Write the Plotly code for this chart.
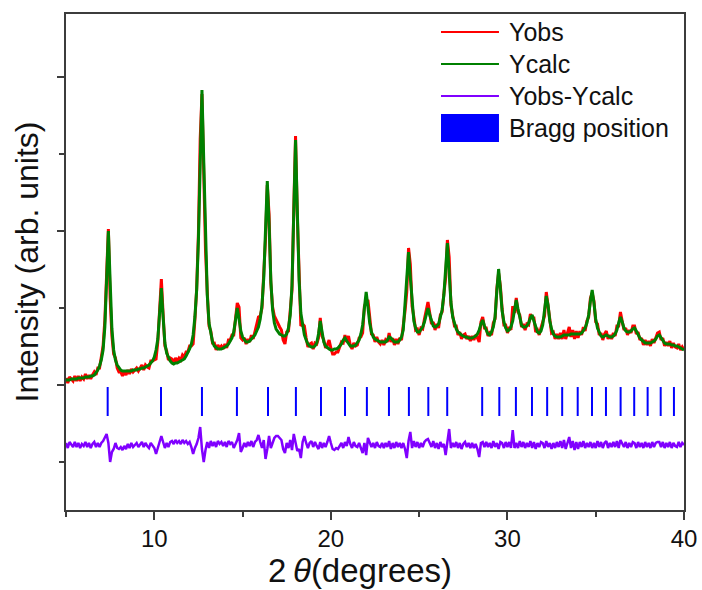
import numpy as np
import plotly.graph_objects as go

# 2-theta grid (degrees), 0.1 deg steps
two_theta = np.round(np.linspace(5.0, 40.0, 351), 1)

# Calculated profile (arb. units)
y_calc = [
    5, 5, 5, 6, 6, 6, 6, 7, 7, 7,
    7, 8, 8, 8, 9, 9, 10, 12, 15, 19,
    25, 35, 58, 105, 154, 104, 56, 35, 25, 20,
    17, 15, 14, 14, 14, 14, 14, 14, 15, 15,
    15, 16, 16, 17, 17, 18, 19, 20, 22, 24,
    28, 35, 46, 70, 97, 68, 42, 32, 27, 24,
    22, 21, 22, 22, 23, 24, 25, 26, 29, 32,
    36, 41, 50, 68, 95, 145, 228, 295, 225, 140,
    90, 62, 50, 43, 39, 37, 36, 36, 36, 37,
    38, 39, 41, 44, 47, 53, 65, 77, 66, 54,
    48, 45, 43, 43, 44, 46, 48, 50, 54, 58,
    66, 80, 107, 160, 204, 162, 105, 75, 62, 56,
    53, 51, 50, 49, 49, 51, 57, 70, 100, 165,
    245, 175, 105, 72, 58, 50, 45, 41, 39, 38,
    38, 39, 42, 51, 64, 52, 43, 39, 37, 36,
    35, 35, 36, 36, 37, 39, 41, 45, 47, 44,
    41, 39, 39, 39, 40, 42, 45, 51, 60, 77,
    93, 78, 62, 53, 48, 46, 45, 44, 43, 43,
    43, 43, 45, 48, 47, 45, 43, 43, 43, 45,
    48, 55, 78, 106, 133, 108, 82, 64, 57, 53,
    53, 55, 58, 63, 71, 77, 70, 63, 59, 58,
    59, 61, 67, 75, 90, 117, 142, 112, 83, 68,
    61, 56, 53, 51, 50, 49, 48, 48, 47, 47,
    47, 48, 49, 51, 55, 61, 65, 59, 54, 51,
    50, 53, 58, 68, 94, 116, 96, 74, 63, 57,
    54, 55, 58, 64, 75, 85, 76, 66, 60, 58,
    58, 59, 62, 67, 70, 64, 57, 53, 52, 54,
    60, 72, 89, 80, 64, 56, 51, 49, 48, 48,
    48, 49, 50, 50, 50, 50, 51, 51, 51, 51,
    51, 51, 52, 54, 57, 62, 70, 84, 95, 82,
    66, 57, 52, 49, 48, 49, 50, 49, 48, 48,
    49, 51, 55, 62, 68, 63, 57, 54, 53, 53,
    54, 56, 57, 54, 50, 47, 45, 43, 42, 42,
    42, 42, 43, 44, 46, 49, 50, 47, 44, 42,
    41, 41, 41, 40, 40, 39, 39, 38, 37, 36,
    35,
]

# Refinement residual Yobs - Ycalc (arb. units)
residual = [
    2, -3, 3, 0, -2, 3, -2, 2, -3, 1,
    -1, 3, -2, 2, -3, 1, 3, -2, 2, -2,
    2, 4, 7, 11, 2, -17, -7, -4, 2, -3,
    -4, -2, -5, -1, -4, 1, -3, 2, -2, 0,
    2, -2, 1, 3, -2, 2, -1, -3, 2, 0,
    -3, -9, -3, 5, 9, 3, -3, 2, -2, 3,
    4, 1, 5, 2, 4, 1, 5, 2, 4, 1,
    3, -2, -9, -3, 1, 7, 18, -4, -17, -5,
    3, -3, 4, -1, 3, -2, 4, 1, 3, -1,
    3, -2, 4, 1, 3, -3, 1, 5, 12, -7,
    -3, 2, -2, 3, -1, 4, -2, 3, 5, 10,
    3, -3, 5, -14, -4, 9, -3, 3, 7, 9,
    9, 7, 5, -4, -8, 2, -3, 5, -5, 11,
    4, -6, -4, -13, 3, 9, 2, -3, 2, 4,
    -2, 3, -1, -4, 3, -3, 2, -2, 3, 9,
    2, -4, -5, -3, -4, -1, 2, -3, 3, -1,
    8, 1, -3, 3, -1, -2, 2, -3, -8, 2,
    -10, 7, 3, -2, 2, -3, 3, -1, -2, 2,
    -3, 2, -2, 4, -4, 2, -3, 3, -2, 2,
    -3, 2, -4, -13, 4, 13, -3, 4, -2, 3,
    -3, 2, -2, 3, 5, 6, 2, -2, 4, -3,
    2, -4, 3, -2, 1, -10, 3, 16, -3, 2,
    -2, 3, -3, 2, -4, 1, 3, -2, 2, -3,
    2, -3, 1, -4, -12, 2, 3, -2, 3, -2,
    2, -3, 4, -2, 2, -4, 3, 2, -3, 3,
    -2, 3, -3, 15, -3, 2, -3, 4, -2, 3,
    -3, 2, -2, 4, -3, 3, -4, 2, -2, 3,
    2, -3, 4, -2, 2, -4, 2, -3, 3, -2,
    4, -3, 5, -4, 2, 8, -3, 4, -5, 3,
    -4, 3, -2, 4, -3, 2, -2, 3, -3, 2,
    -3, 4, -2, 3, -3, 2, 4, -3, 2, -2,
    3, -2, 4, -3, 5, 2, -2, 3, -3, 2,
    -2, 3, 2, -3, 3, -2, 2, -3, 3, -2,
    2, -3, 3, -2, 2, 3, 3, -2, 3, -3,
    2, -2, 3, -3, 2, -1, -2, 3, -2, 2,
    0,
]

# Bragg reflection positions (2-theta, degrees)
bragg_positions = [
    7.36, 10.38, 12.70, 14.68, 16.44, 18.02, 19.44, 20.80, 22.04,
    23.29, 24.42, 25.52, 26.59, 28.57, 29.54, 30.48, 31.39, 32.25,
    33.10, 33.98, 34.79, 35.58, 36.41, 37.18, 37.94, 38.68, 39.43,
]

assert len(y_calc) == len(two_theta) == len(residual)

y_calc = np.array(y_calc, dtype=float)
residual = np.array(residual, dtype=float)
y_obs = y_calc + residual

# vertical placement of the lower panels (axis units)
DIFF_OFFSET = -60
TICK_TOP, TICK_BOTTOM = -2, -31

RED = "#ff0000"
GREEN = "#008000"
PURPLE = "#8000ff"
BLUE = "#0000ff"
AXIS = "#3c3c3c"
FONT = "Liberation Sans, Arial, sans-serif"

bx, by = [], []
for p in bragg_positions:
    bx += [p, p, None]
    by += [TICK_TOP, TICK_BOTTOM, None]

fig = go.Figure()
fig.add_trace(go.Scatter(x=two_theta, y=y_obs, mode="lines", name="Yobs",
                         line=dict(color=RED, width=3), hoverinfo="skip"))
fig.add_trace(go.Scatter(x=two_theta, y=y_calc, mode="lines", name="Ycalc",
                         line=dict(color=GREEN, width=3), hoverinfo="skip"))
fig.add_trace(go.Scatter(x=two_theta, y=residual + DIFF_OFFSET, mode="lines",
                         name="Yobs-Ycalc", line=dict(color=PURPLE, width=2.5),
                         hoverinfo="skip"))
fig.add_trace(go.Scatter(x=bx, y=by, mode="lines", name="Bragg position",
                         line=dict(color=BLUE, width=2), hoverinfo="skip"))

# legend drawn in paper coordinates
legend_items = [("Yobs", RED), ("Ycalc", GREEN), ("Yobs-Ycalc", PURPLE)]
lx0, lx1, tx = 0.6068, 0.7006, 0.7136
rows_y = [0.9637, 0.8992, 0.8347, 0.7702]
shapes = []
annotations = []
for (label, col), yy in zip(legend_items, rows_y):
    shapes.append(dict(type="line", xref="paper", yref="paper",
                       x0=lx0, x1=lx1, y0=yy, y1=yy,
                       line=dict(color=col, width=2)))
for label, yy in zip(["Yobs", "Ycalc", "Yobs-Ycalc", "Bragg position"], rows_y):
    annotations.append(dict(text=label, xref="paper", yref="paper", x=tx, y=yy,
                            xanchor="left", yanchor="middle", showarrow=False,
                            font=dict(family=FONT, size=25, color="#111")))
shapes.append(dict(type="rect", xref="paper", yref="paper",
                   x0=lx0, x1=lx1, y0=0.7419, y1=0.7984,
                   fillcolor=BLUE, line=dict(width=0)))

# x-axis title, set slightly left of the plot centre
annotations.append(dict(text="2\u2009<i>θ</i>(degrees)", xref="paper", yref="paper",
                        x=0.4757, y=-0.121, xanchor="center", yanchor="middle",
                        showarrow=False, borderpad=0,
                        font=dict(family=FONT, size=33, color="#111")))

fig.update_layout(
    width=702, height=590,
    margin=dict(l=66, r=18, t=14, b=80),
    paper_bgcolor="white", plot_bgcolor="white",
    showlegend=False,
    shapes=shapes, annotations=annotations,
    font=dict(family=FONT, color="#111"),
)
fig.update_xaxes(
    range=[5, 40], tick0=0, dtick=10, ticks="outside", ticklen=8, tickwidth=1.5,
    tickcolor=AXIS, showline=True, linecolor=AXIS, linewidth=2, mirror=True,
    showgrid=False, zeroline=False, automargin=False, ticklabelstandoff=-2,
    tickfont=dict(family=FONT, size=24, color="#111"),
    minor=dict(dtick=5, tick0=0, ticks="outside", ticklen=5, tickcolor=AXIS,
               tickwidth=1.5, showgrid=False),
)
fig.update_yaxes(
    range=[-125, 371], tick0=0, dtick=154, ticks="outside", ticklen=7, tickwidth=1.5,
    tickcolor=AXIS, showline=True, linecolor=AXIS, linewidth=2, mirror=True,
    showgrid=False, zeroline=False, showticklabels=False, automargin=False,
    minor=dict(dtick=77, tick0=0, ticks="outside", ticklen=5, tickcolor=AXIS,
               tickwidth=1.5, showgrid=False),
    title=dict(text="Intensity (arb. units)", font=dict(family=FONT, size=32, color="#111"),
               standoff=9),
)

fig.write_html("out.html")
